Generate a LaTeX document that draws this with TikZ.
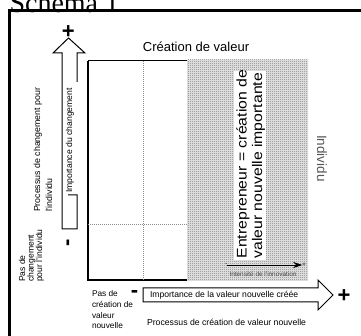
\documentclass[tikz,border=0pt]{standalone}
\usepackage{fontspec}
\usepackage{graphicx}
\setmainfont{Liberation Sans}
\newfontfamily\titlefont{Liberation Serif}
\usetikzlibrary{arrows.meta,patterns}
\definecolor{softtext}{HTML}{555555}
% fine checkerboard used as the screen of the shaded zone
\pgfdeclarepatternformonly{finechecker}{\pgfpointorigin}{\pgfpoint{2pt}{2pt}}{\pgfpoint{2pt}{2pt}}{%
  \pgfpathrectangle{\pgfpointorigin}{\pgfpoint{1pt}{1pt}}%
  \pgfpathrectangle{\pgfpoint{1pt}{1pt}}{\pgfpoint{1pt}{1pt}}%
  \pgfusepath{fill}}
\begin{document}
\begin{tikzpicture}[x=1pt,y=-1pt,
  txt/.style={inner sep=0pt, outer sep=0pt},
  up/.style={txt, rotate=90, anchor=base west},
  outline/.style={draw=black, line width=1pt, line join=miter},
  guide/.style={draw=black!45, line width=0.8pt, dash pattern=on 1pt off 1pt},
  sign/.style={txt, font=\fontsize{22}{22}\selectfont\bfseries}]
\useasboundingbox (0,0) rectangle (361,336);
\clip (0,0) rectangle (361,336);

% title and frame
\node[txt, anchor=base west, font=\titlefont\fontsize{28}{28}\selectfont] (title) at (9.5,12.7) {Schema 1};
\draw[line width=2.3pt] (9.5,336) -- (9.5,10.6) -- (361,10.6);

% shaded zone
\fill[black!8] (187,60) rectangle (308,281);
\fill[pattern=finechecker, pattern color=black!52] (187,60) rectangle (308,281);

% matrix frame and guides
\draw[line width=1pt] (187,61) -- (88,61);
\draw[line width=1.3pt] (88,61) -- (88,280) -- (187,280);
\draw[guide] (143,61) -- (143,280);
\draw[guide] (88,224) -- (187,224);

\node[txt, font=\fontsize{13}{13}\selectfont] (cv) at (196,47) {Création de valeur};

% entrepreneur label
\fill[white] (234,71) rectangle (266,260);
\node[up, font=\fontsize{14}{14}\selectfont] (ent1) at (246.5,258.5) {\scalebox{1.13}[1]{Entrepreneur = création de}};
\node[up, font=\fontsize{14}{14}\selectfont] (ent2) at (262,258.5) {\scalebox{1.13}[1]{valeur nouvelle importante}};

\node[txt, rotate=-90, text=softtext, font=\fontsize{13.5}{13.5}\selectfont] (ind) at (322,158.5) {Individu};

% innovation intensity arrow
\node[txt, font=\fontsize{6}{6}\selectfont] (im) at (226,265) {-};
\node[txt, font=\fontsize{6}{6}\selectfont] (ip) at (304,265) {+};
\draw[line width=0.9pt, -{Stealth[length=9pt,width=6pt]}] (im.east) -- (ip.west);
\node[txt, text=black!70, font=\fontsize{6.4}{6.4}\selectfont] (ii) at (263,274) {Intensité de l'innovation};

% vertical block arrow
\draw[outline] (77,82) -- (77,53) -- (85,53) -- (68.5,38) -- (53,53) -- (62,53) -- (62,229) -- (77,229) -- (77,195) -- (68,195);
\node[up, font=\fontsize{8.6}{8.6}\selectfont] (ic) at (72,193) {Importance du changement};
\node[sign] (pt) at (68.3,32.5) {+};
\node[sign, rotate=90] (mt) at (70,242.5) {-};

% left labels
\node[up, font=\fontsize{8.8}{8.8}\selectfont] (pc1) at (40,212) {Processus de changement pour};
\node[up, font=\fontsize{8.8}{8.8}\selectfont] (pc2) at (52,212) {l'individu};
\node[up, font=\fontsize{8.6}{8.6}\selectfont] (pa1) at (25,282) {Pas de};
\node[up, font=\fontsize{8.6}{8.6}\selectfont] (pa2) at (33.5,282) {changement};
\node[up, font=\fontsize{8.6}{8.6}\selectfont] (pa3) at (42,282) {pour l'individu};

% horizontal block arrow
\draw[outline] (143,288) -- (318,288) -- (318,280) -- (333,295) -- (318,310) -- (318,302) -- (143,302) -- cycle;
\node[txt, anchor=base west, font=\fontsize{8.6}{8.6}\selectfont] (iv) at (150,298) {Importance de la valeur nouvelle créée};
\node[sign] (pb) at (344,296.5) {+};
\node[sign] (mb) at (134.5,294) {-};

% bottom labels
\node[txt, anchor=base west, font=\fontsize{8.3}{8.3}\selectfont] (pn1) at (92,297) {Pas de};
\node[txt, anchor=base west, font=\fontsize{8.3}{8.3}\selectfont] (pn2) at (92,307.5) {création de};
\node[txt, anchor=base west, font=\fontsize{8.3}{8.3}\selectfont] (pn3) at (92,318) {valeur};
\node[txt, anchor=base west, font=\fontsize{8.3}{8.3}\selectfont] (pn4) at (92,328.5) {nouvelle};
\node[txt, anchor=base west, font=\fontsize{8.7}{8.7}\selectfont] (pv) at (147,325) {Processus de création de valeur nouvelle};
\end{tikzpicture}
\end{document}
